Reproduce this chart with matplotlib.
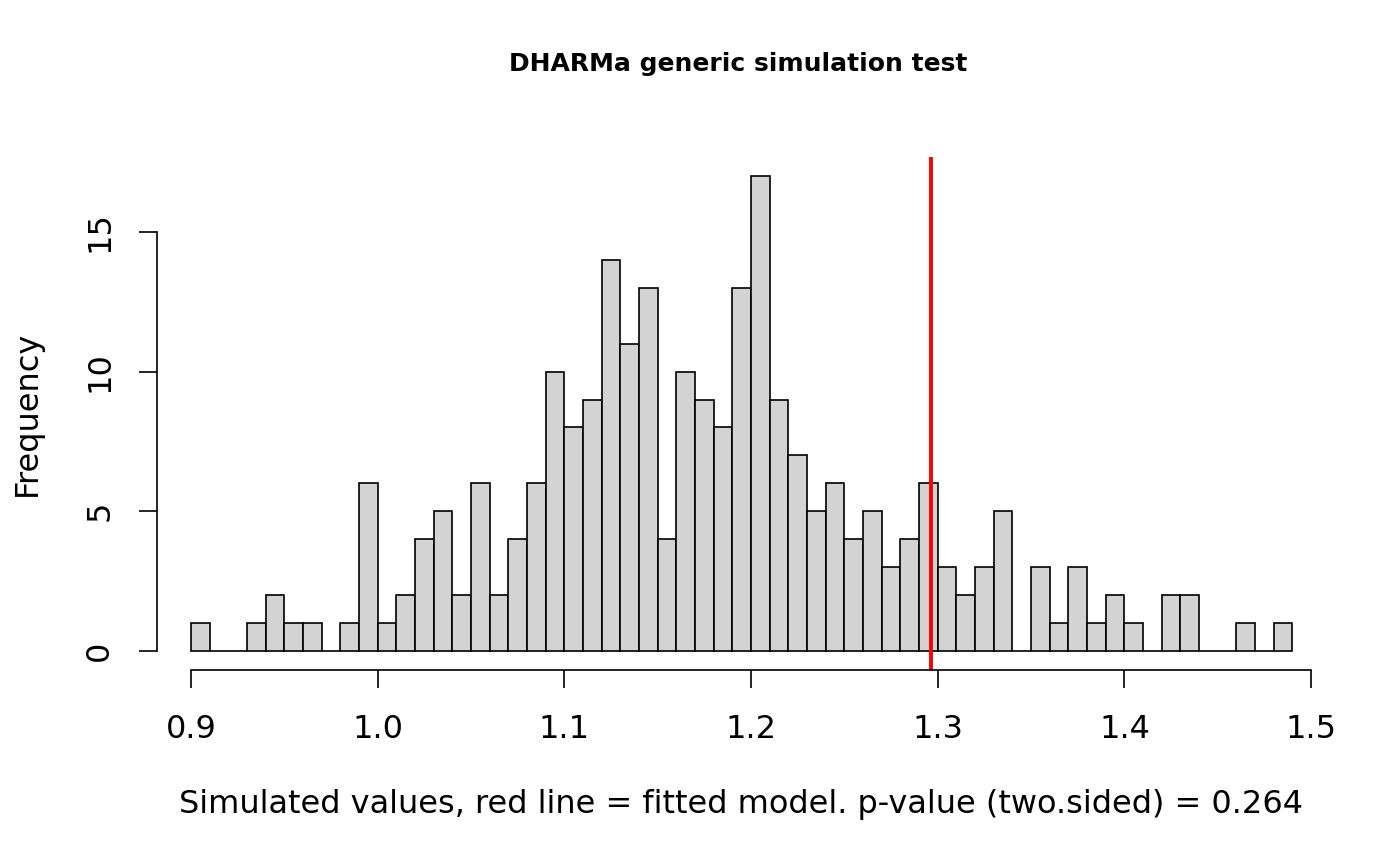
import numpy as np
import matplotlib
matplotlib.use("Agg")
from matplotlib import pyplot as plt

# histogram of simulated values, bins of width 0.01 starting at 0.90
bin_start = 0.90
bin_width = 0.01
counts = [1, 0, 0, 1, 2, 1, 1, 0, 1, 6,
          1, 2, 4, 5, 2, 6, 2, 4, 6, 10,
          8, 9, 14, 11, 13, 4, 10, 9, 8, 13,
          17, 9, 7, 5, 6, 4, 5, 3, 4, 6,
          3, 2, 3, 5, 0, 3, 1, 3, 1, 2,
          1, 0, 2, 2, 0, 0, 1, 0, 1]
observed = 1.2962  # fitted model value (red line)

x_ticks = [0.9, 1.0, 1.1, 1.2, 1.3, 1.4, 1.5]
y_ticks = [0, 5, 10, 15]

title = "DHARMa generic simulation test"
xlabel = "Simulated values, red line = fitted model. p-value (two.sided) = 0.264"
ylabel = "Frequency"

bin_lefts = bin_start + bin_width * np.arange(len(counts))

fig = plt.figure(figsize=(14, 8.66), dpi=100)
ax = fig.add_axes([157 / 1400, 196 / 866, (1326 - 157) / 1400, (670 - 157) / 866])

ax.bar(bin_lefts, counts, width=bin_width, align="edge",
       color="#d3d3d3", edgecolor="black", linewidth=1.2)
ax.axvline(observed, color="red", linewidth=2.8)

ax.set_xlim(0.8818, 1.508)
ax.set_ylim(-0.68, 17.68)

# R-style axes: only the range of the ticks is drawn
for side in ("top", "right"):
    ax.spines[side].set_visible(False)
ax.spines["bottom"].set_bounds(x_ticks[0], x_ticks[-1])
ax.spines["left"].set_bounds(y_ticks[0], y_ticks[-1])
ax.spines["bottom"].set_linewidth(1.2)
ax.spines["left"].set_linewidth(1.2)

ax.set_xticks(x_ticks)
ax.set_xticklabels([f"{v:.1f}" for v in x_ticks])
ax.set_yticks(y_ticks)
ax.set_yticklabels([str(v) for v in y_ticks], rotation=90, va="center")
ax.tick_params(axis="both", direction="out", length=13, width=1.2,
               labelsize=23)
ax.tick_params(axis="x", pad=19)
ax.tick_params(axis="y", pad=17)

fig.text(741 / 1400, 1 - 805 / 866, xlabel, ha="center", va="center",
         fontsize=23)
fig.text(27 / 1400, 1 - 413 / 866, ylabel, ha="center", va="center",
         rotation=90, fontsize=23)
fig.text(738 / 1400, 1 - 64 / 866, title, ha="center", va="center",
         fontsize=18, fontweight="bold")

fig.savefig("out.png", dpi=100)
